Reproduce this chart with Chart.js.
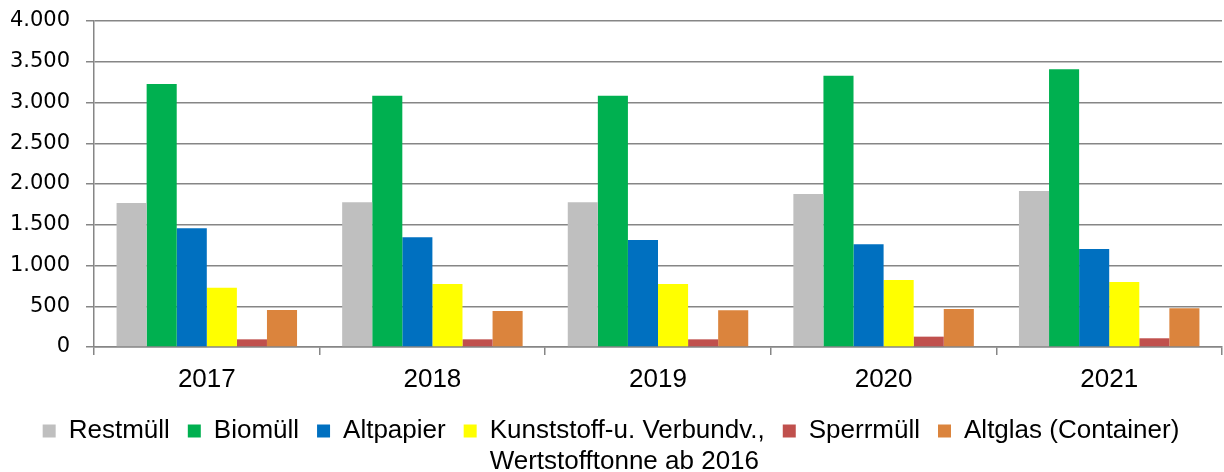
<!DOCTYPE html>
<html>
<head>
<meta charset="utf-8">
<script src="https://cdn.jsdelivr.net/npm/chart.js@4/dist/chart.umd.min.js"></script>
<style>
  html, body { margin: 0; padding: 0; background: #fff; }
  #wrap { width: 1224px; height: 472px; }
</style>
</head>
<body>
<div id="wrap"><canvas id="chart"></canvas></div>
<script>
// Abfallmengen je Jahr
const years = ["2017", "2018", "2019", "2020", "2021"];
const restmuell = [1767, 1775, 1775, 1877, 1914];
const biomuell = [3227, 3084, 3084, 3329, 3407];
const altpapier = [1456, 1346, 1313, 1260, 1202];
const kunststoff = [728, 773, 773, 822, 798];
const sperrmuell = [94, 94, 94, 127, 107];
const altglas = [454, 442, 450, 466, 475];
const yTicks = [0, 500, 1000, 1500, 2000, 2500, 3000, 3500, 4000];

const series = [
  { label: "Restmüll", data: restmuell, color: "#bfbfbf" },
  { label: "Biomüll", data: biomuell, color: "#00b050" },
  { label: "Altpapier", data: altpapier, color: "#0070c0" },
  { label: "Kunststoff-u. Verbundv.,", data: kunststoff, color: "#ffff00" },
  { label: "Sperrmüll", data: sperrmuell, color: "#c0504d" },
  { label: "Altglas (Container)", data: altglas, color: "#db843d" }
];
// zweite Zeile des Kunststoff-Eintrags
const legendSecondLine = { index: 3, text: "Wertstofftonne ab 2016" };

const textFont = { family: "'Liberation Sans', Arial, sans-serif", size: 26 };
const axisFont = { family: "'DejaVu Sans', Verdana, sans-serif", size: 21 };
const gridColor = "#868686";

// 1.500 statt 1,500
function fmt(v) {
  return String(v).replace(/\B(?=(\d{3})+(?!\d))/g, ".");
}

const legendExtraLine = {
  id: "legendExtraLine",
  afterDraw(chart) {
    const legend = chart.legend;
    const box = legend && legend.legendHitBoxes[legendSecondLine.index];
    if (!box) return;
    const opts = legend.options.labels;
    const ctx = chart.ctx;
    ctx.save();
    ctx.font = `${textFont.size}px ${textFont.family}`;
    ctx.fillStyle = "#000";
    ctx.textAlign = "left";
    ctx.textBaseline = "middle";
    const x = box.left + opts.boxWidth + textFont.size / 2;
    const y = box.top + box.height / 2 + textFont.size * 1.18;
    ctx.fillText(legendSecondLine.text, x, y);
    ctx.restore();
  }
};

new Chart(document.getElementById("chart"), {
  type: "bar",
  data: {
    labels: years,
    datasets: series.map(s => ({
      label: s.label,
      data: s.data,
      backgroundColor: s.color,
      borderWidth: 0,
      categoryPercentage: 0.8,
      barPercentage: 1.0
    }))
  },
  options: {
    responsive: true,
    maintainAspectRatio: false,
    animation: false,
    layout: { padding: { top: 21, right: 2, left: 0, bottom: 18 } },
    plugins: {
      tooltip: { enabled: false },
      legend: {
        position: "bottom",
        labels: {
          font: textFont,
          color: "#000",
          boxWidth: 13,
          boxHeight: 13,
          padding: 18
        }
      }
    },
    scales: {
      x: {
        offset: true,
        grid: {
          offset: true,
          drawOnChartArea: false,
          color: gridColor,
          lineWidth: 1.5,
          tickLength: 8
        },
        border: { color: gridColor, width: 1.5 },
        ticks: { font: textFont, color: "#000", padding: 9 },
        afterFit(scale) { scale.height = 53; }
      },
      y: {
        min: 0,
        max: 4000,
        afterBuildTicks(scale) {
          scale.ticks = yTicks.map(v => ({ value: v }));
        },
        grid: { color: gridColor, lineWidth: 1.5, tickLength: 8 },
        border: { color: gridColor, width: 1.5 },
        ticks: {
          font: axisFont,
          color: "#000",
          padding: 16,
          callback: v => fmt(v)
        },
        afterFit(scale) {
          scale.width = 94;
          scale.paddingTop = 0;
          scale.paddingBottom = 0;
        }
      }
    }
  },
  plugins: [legendExtraLine]
});
</script>
</body>
</html>
